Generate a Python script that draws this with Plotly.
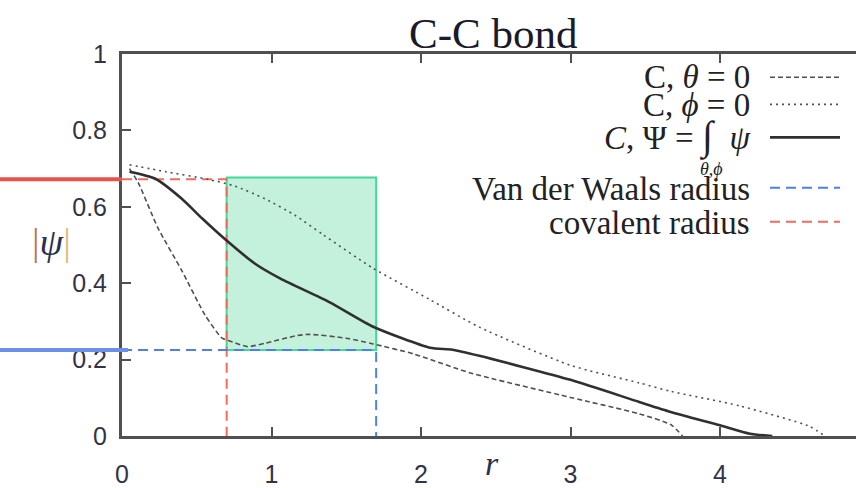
import plotly.graph_objects as go

# ---------------- data ----------------
r_theta = [0.05, 0.11, 0.24, 0.40, 0.555, 0.67, 0.74, 0.84, 0.96, 1.16, 1.25, 1.50, 1.68, 1.95, 2.33, 3.0, 3.46, 3.67, 3.75]
psi_theta = [0.700, 0.662, 0.545, 0.433, 0.317, 0.256, 0.246, 0.234, 0.243, 0.262, 0.266, 0.256, 0.241, 0.215, 0.165, 0.101, 0.058, 0.030, 0.0]

r_phi = [0.05, 0.29, 0.575, 0.756, 0.956, 1.157, 1.345, 1.68, 2.06, 2.39, 3.0, 3.46, 3.67, 4.13, 4.60, 4.70]
psi_phi = [0.710, 0.692, 0.672, 0.654, 0.621, 0.578, 0.527, 0.439, 0.357, 0.285, 0.185, 0.139, 0.117, 0.079, 0.025, 0.0]

r_int = [0.05, 0.22, 0.40, 0.535, 0.69, 0.89, 1.06, 1.39, 1.68, 2.06, 2.21, 2.39, 3.0, 3.46, 3.67, 4.0, 4.2, 4.35]
psi_int = [0.692, 0.674, 0.621, 0.570, 0.515, 0.451, 0.412, 0.350, 0.286, 0.231, 0.226, 0.210, 0.147, 0.089, 0.063, 0.028, 0.006, 0.0]

covalent_radius = 0.7
vdw_radius = 1.7
covalent_level = 0.672
vdw_level = 0.225
box_top = 0.677

x_ticks = [0, 1, 2, 3, 4]
y_ticks = [0, 0.2, 0.4, 0.6, 0.8, 1]
y_tick_text = ["0", "0.2", "0.4", "0.6", "0.8", "1"]

legend_labels = [
    "C, <i>θ</i> = 0",
    "C, <i>ϕ</i> = 0",
    "<i>C</i>, Ψ = <span style='font-size:40px'>∫</span>  <i>ψ</i>",
    "Van der Waals radius",
    "covalent radius",
]

# ---------------- layout geometry ----------------
W, H = 856, 488
L, R, T, B = 122, 0, 54, 40
PW, PH = W - L - R, H - T - B


def px(xp):
    return (xp - L) / PW


def py(yp):
    return (H - B - yp) / PH


GRAY = "#505050"
RED = "#f26b63"
BLUE = "#4d7ff0"
SERIF = "Liberation Serif, Times New Roman, serif"
SANS = "Liberation Sans, Arial, sans-serif"

fig = go.Figure()

# reference lines (dashed)
fig.add_trace(go.Scatter(
    x=[0, covalent_radius, covalent_radius], y=[covalent_level, covalent_level, 0],
    mode="lines", line=dict(color=RED, width=2, dash="10px,6px"), hoverinfo="skip"))
fig.add_trace(go.Scatter(
    x=[0, vdw_radius, vdw_radius], y=[vdw_level, vdw_level, 0],
    mode="lines", line=dict(color=BLUE, width=2, dash="10px,6px"), hoverinfo="skip"))

# curves
fig.add_trace(go.Scatter(x=r_theta, y=psi_theta, mode="lines",
                         line=dict(color=GRAY, width=1.6, dash="5px,3px", shape="spline", smoothing=0.6)))
fig.add_trace(go.Scatter(x=r_phi, y=psi_phi, mode="lines",
                         line=dict(color=GRAY, width=1.6, dash="2px,4px", shape="spline", smoothing=0.6)))
fig.add_trace(go.Scatter(x=r_int, y=psi_int, mode="lines",
                         line=dict(color="#303030", width=2.6, shape="spline", smoothing=0.6)))

shapes = []
# green box
shapes.append(dict(type="rect", xref="x", yref="y", x0=covalent_radius, x1=vdw_radius,
                   y0=vdw_level, y1=box_top, fillcolor="rgba(60,210,140,0.30)",
                   line=dict(color="#3ddc97", width=2), layer="below"))
# margin marker lines
shapes.append(dict(type="line", xref="paper", yref="y", x0=px(0), x1=0, y0=covalent_level, y1=covalent_level,
                   line=dict(color="#e5534a", width=4)))
shapes.append(dict(type="line", xref="paper", yref="y", x0=px(0), x1=px(128), y0=vdw_level, y1=vdw_level,
                   line=dict(color="#6a90ea", width=4)))

# legend samples
leg_y = [78, 106, 140, 192, 227]
leg_styles = [
    dict(color=GRAY, width=1.6, dash="5px,3px"),
    dict(color=GRAY, width=1.6, dash="2px,4px"),
    dict(color="#303030", width=2.6),
    dict(color=BLUE, width=2, dash="10px,6px"),
    dict(color=RED, width=2, dash="10px,6px"),
]
for yv, st in zip(leg_y, leg_styles):
    shapes.append(dict(type="line", xref="paper", yref="paper", x0=px(770), x1=px(840),
                       y0=py(yv), y1=py(yv), line=st))

annotations = []
for lab, yv in zip(legend_labels, [78, 107, 139, 193, 228]):
    annotations.append(dict(text=lab, xref="paper", yref="paper", x=px(752), y=py(yv),
                            xanchor="right", yanchor="middle", showarrow=False,
                            font=dict(family=SERIF, size=33, color="#222222")))
annotations.append(dict(text="<i>θ,ϕ</i>", xref="paper", yref="paper", x=px(711), y=py(173),
                        xanchor="center", yanchor="middle", showarrow=False,
                        font=dict(family=SERIF, size=18, color="#222222")))
# axis labels
annotations.append(dict(text="<span style='color:#b97a52'>|</span><i>ψ</i><span style='color:#e6b67a'>|</span>",
                        xref="paper", yref="paper", x=px(51), y=py(248), xanchor="center", yanchor="middle",
                        showarrow=False, font=dict(family=SERIF, size=38, color="#2a3050")))
annotations.append(dict(text="<i>r</i>", xref="paper", yref="paper", x=px(492), y=py(476),
                        xanchor="center", yanchor="middle", showarrow=False,
                        font=dict(family=SERIF, size=34, color="#2a3050")))
# title
annotations.append(dict(text="C-C bond", xref="paper", yref="paper", x=px(493), y=py(33),
                        xanchor="center", yanchor="middle", showarrow=False,
                        font=dict(family=SERIF, size=43, color="#1a1a2a")))

fig.update_layout(
    width=W, height=H, margin=dict(l=L, r=R, t=T, b=B, pad=0),
    paper_bgcolor="white", plot_bgcolor="white", showlegend=False,
    shapes=shapes, annotations=annotations,
    xaxis=dict(range=[0, (W - L) / 149.5], tickvals=x_ticks, ticktext=[str(v) for v in x_ticks],
               showgrid=False, zeroline=False, showline=True, linecolor=GRAY, linewidth=3,
               mirror="ticks", ticks="inside", ticklen=9, tickwidth=1.5, tickcolor=GRAY,
               tickfont=dict(family=SANS, size=25, color="#333344"), ticklabelstandoff=14),
    yaxis=dict(range=[0, 1], tickvals=y_ticks, ticktext=y_tick_text,
               showgrid=False, zeroline=False, showline=True, linecolor=GRAY, linewidth=3,
               mirror=False, ticks="inside", ticklen=9, tickwidth=1.5, tickcolor=GRAY,
               tickfont=dict(family=SANS, size=25, color="#333344"), ticklabelstandoff=7),
)

fig.write_html("out.html", config={"displayModeBar": False},
               post_script="document.body.style.margin='0';document.body.style.overflow='hidden';")
